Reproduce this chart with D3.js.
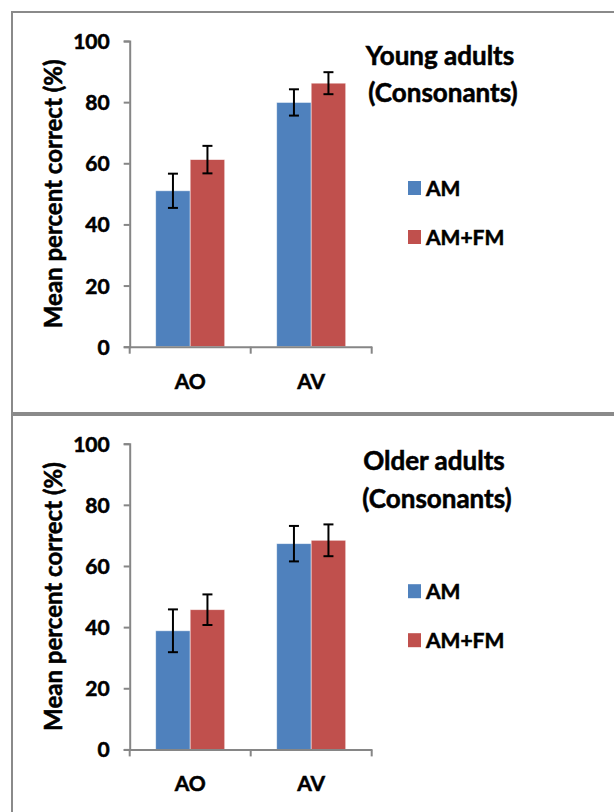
<!DOCTYPE html>
<html lang="en">
<head>
  <meta charset="utf-8" />
  <title>Consonant identification</title>
  <script type="text/javascript" src="https://cdn.jsdelivr.net/npm/d3@7"></script>
  <style type="text/css">
body { margin: 0; background: white; }
/* Lato bold is a bit light next to the original, so thicken it slightly */
text { font-family: Lato, "Liberation Sans", sans-serif; font-weight: bold; fill: #000;
       stroke: #000; stroke-width: 0.55px; }
  </style>
</head>
<body>

<script type="text/javascript">

var categories = ["AO", "AV"];
var series = ["AM", "AM+FM"];
var colors = ["#4f81bd", "#c0504d"];
var yTicks = [0, 20, 40, 60, 80, 100];

// young adults
var youngAM = [51.0, 79.9];
var youngAMFM = [61.2, 86.2];
var youngErrAM = [5.6, 4.3];
var youngErrAMFM = [4.5, 3.6];

// older adults
var olderAM = [38.8, 67.3];
var olderAMFM = [45.7, 68.4];
var olderErrAM = [7.0, 5.8];
var olderErrAMFM = [5.0, 5.2];

var w = 614;
var h = 812;

var svg = d3.select("body")
    .append("svg")
    .attr("width", w)
    .attr("height", h);

// panel frames
svg.append("rect")
    .attr("x", 12).attr("y", 12)
    .attr("width", w + 10).attr("height", 401)
    .attr("fill", "none").attr("stroke", "#8a8a8a").attr("stroke-width", 2);
svg.append("rect")
    .attr("x", 12).attr("y", 415)
    .attr("width", w + 10).attr("height", 420)
    .attr("fill", "none").attr("stroke", "#8a8a8a").attr("stroke-width", 2);

function drawPanel(top, vals, errs, title) {
  var g = svg.append("g");
  var y0 = top + 346.7, y1 = top + 41;

  var x = d3.scaleBand()
      .domain(categories)
      .range([129.7, 371.7])
      .padding(0);
  var xs = d3.scaleBand()
      .domain(series)
      .range([-34.5, 34.5]);
  var y = d3.scaleLinear()
      .domain([0, 100])
      .range([y0, y1]);

  var rows = [];
  categories.forEach(function(c, i) {
    series.forEach(function(s, j) {
      rows.push({ cat: c, ser: s, j: j, val: vals[j][i], err: errs[j][i] });
    });
  });

  var bars = g.append("g");
  bars.selectAll("rect")
      .data(rows)
      .enter()
      .append("rect")
      .attr("x", function(d) { return x(d.cat) + x.bandwidth() / 2 + xs(d.ser); })
      .attr("y", function(d) { return y(d.val); })
      .attr("width", xs.bandwidth())
      .attr("height", function(d) { return y0 - y(d.val); })
      .attr("fill", function(d) { return colors[d.j]; })
      .attr("stroke", "rgba(255,255,255,0.6)")
      .attr("stroke-width", 0.8);

  // error bars
  var eb = g.append("g").attr("stroke", "#000").attr("stroke-width", 2);
  rows.forEach(function(d) {
    var cx = x(d.cat) + x.bandwidth() / 2 + xs(d.ser) + xs.bandwidth() / 2;
    eb.append("line").attr("x1", cx).attr("x2", cx)
        .attr("y1", y(d.val + d.err)).attr("y2", y(d.val - d.err));
    eb.append("line").attr("x1", cx - 5).attr("x2", cx + 5)
        .attr("y1", y(d.val + d.err)).attr("y2", y(d.val + d.err));
    eb.append("line").attr("x1", cx - 5).attr("x2", cx + 5)
        .attr("y1", y(d.val - d.err)).attr("y2", y(d.val - d.err));
  });

  // y axis
  var ya = g.append("g")
      .attr("transform", "translate(129.7,0)")
      .call(d3.axisLeft(y).tickValues(yTicks).tickSize(6).tickPadding(14));
  ya.select(".domain").attr("stroke", "#868686").attr("stroke-width", 2);
  ya.selectAll(".tick line").attr("stroke", "#868686").attr("stroke-width", 2);
  ya.selectAll(".tick text")
      .attr("font-family", null).attr("font-size", 21).attr("dy", "0.36em");

  // x axis with ticks at band edges
  var xa = g.append("g")
      .attr("transform", "translate(0," + y0 + ")")
      .call(d3.axisBottom(x).tickSize(0).tickPadding(27));
  xa.select(".domain").attr("stroke", "#868686").attr("stroke-width", 2);
  xa.selectAll(".tick text").attr("font-family", null).attr("font-size", 21);
  var edges = categories.map(function(c) { return x(c); }).concat([x.range()[1]]);
  xa.selectAll("line.edge")
      .data(edges)
      .enter()
      .append("line")
      .attr("class", "edge")
      .attr("x1", function(d) { return d; }).attr("x2", function(d) { return d; })
      .attr("y1", 0).attr("y2", 7)
      .attr("stroke", "#868686").attr("stroke-width", 2);

  // y title
  g.append("text")
      .attr("transform", "translate(62," + (y0 + y1) / 2 + ") rotate(-90)")
      .attr("text-anchor", "middle")
      .attr("font-size", 24)
      .text("Mean percent correct (%)");

  // panel title
  var tt = g.append("text")
      .attr("text-anchor", "middle")
      .attr("font-size", 26);
  tt.append("tspan").attr("x", title.x).attr("y", top + title.y1).text(title.lines[0]);
  tt.append("tspan").attr("x", title.x + 3).attr("y", top + title.y2).text(title.lines[1]);

  // legend
  var lg = g.append("g");
  series.forEach(function(s, j) {
    var ly = top + title.leg + j * 49;
    lg.append("rect")
        .attr("x", 408).attr("y", ly - 15)
        .attr("width", 13).attr("height", 14)
        .attr("fill", colors[j]);
    lg.append("text")
        .attr("x", 426).attr("y", ly)
        .attr("font-size", 21)
        .text(s);
  });
}

drawPanel(0, [youngAM, youngAMFM], [youngErrAM, youngErrAMFM],
    { lines: ["Young adults", "(Consonants)"], x: 440, y1: 65, y2: 102, leg: 196 });
drawPanel(402.7, [olderAM, olderAMFM], [olderErrAM, olderErrAMFM],
    { lines: ["Older adults", "(Consonants)"], x: 434, y1: 67, y2: 105, leg: 196.5 });

</script>

</body>
</html>
